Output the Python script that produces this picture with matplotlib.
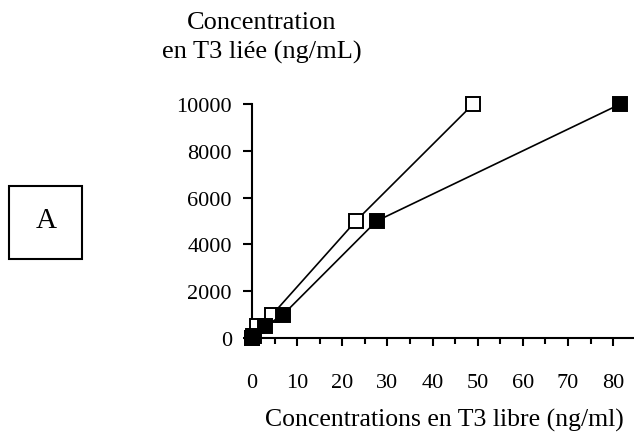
import matplotlib
matplotlib.use("Agg")
import matplotlib.pyplot as plt
from matplotlib.patches import Rectangle
from matplotlib.ticker import MultipleLocator

plt.rcParams['font.family'] = ['Liberation Serif', 'DejaVu Serif']

# Data
open_x = [0, 0.3, 1.2, 4.5, 23, 49]
open_y = [0, 100, 500, 1000, 5000, 10000]
filled_x = [0, 0.5, 2.9, 6.9, 27.6, 81.6]
filled_y = [0, 100, 500, 1000, 5000, 10000]
xticks = [0, 10, 20, 30, 40, 50, 60, 70, 80]
yticks = [0, 2000, 4000, 6000, 8000, 10000]

W, H = 634, 439
fig = plt.figure(figsize=(W / 100, H / 100), dpi=100)

left, right, bottom, top = 252, 634, 339, 105
ax = fig.add_axes([left / W, 1 - bottom / H, (right - left) / W, (bottom - top) / H])

ax.plot(open_x, open_y, color='black', lw=1.2, marker='s', ms=10.5,
        mfc='white', mec='black', mew=1.4, clip_on=False, zorder=3)
ax.plot(filled_x, filled_y, color='black', lw=1.2, marker='s', ms=10.5,
        mfc='black', mec='black', mew=1.4, clip_on=False, zorder=4)

ax.set_xlim(0, 84.6)
ax.set_ylim(0, 10000)
ax.set_xticks(xticks)
ax.xaxis.set_minor_locator(MultipleLocator(5))
ax.set_yticks(yticks)
ax.set_yticklabels([str(v) for v in yticks])
for s in ['top', 'right']:
    ax.spines[s].set_visible(False)
for s in ['left', 'bottom']:
    ax.spines[s].set_linewidth(1.5)
ax.tick_params(axis='x', which='major', direction='out', length=6, width=1.5,
               labelsize=16, pad=19)
ax.tick_params(axis='x', which='minor', direction='out', length=4.5, width=1.5)
ax.tick_params(axis='y', which='major', direction='out', length=6.5, width=1.5,
               labelsize=16, pad=8)

fig.text(262 / W, 1 - 38 / H, "Concentration\nen T3 liée (ng/mL)", ha='center',
         va='center', fontsize=19, linespacing=1.4)
fig.text(444 / W, 1 - 420 / H, "Concentrations en T3 libre (ng/ml)", ha='center',
         va='center', fontsize=18.5)

rect = Rectangle((9 / W, 1 - 260 / H), 73 / W, 73 / H, transform=fig.transFigure,
                 fill=False, edgecolor='black', lw=1.5)
fig.patches.append(rect)
fig.text(46 / W, 1 - 221 / H, "A", ha='center', va='center', fontsize=21)

fig.savefig("out.png", dpi=100)
